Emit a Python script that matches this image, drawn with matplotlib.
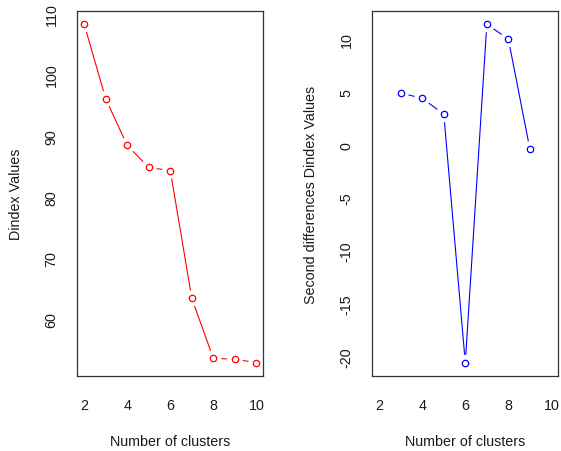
import numpy as np
import matplotlib
matplotlib.use("Agg")
import matplotlib.pyplot as plt

plt.rcParams["font.family"] = ["Liberation Sans", "DejaVu Sans"]
plt.rcParams["axes.unicode_minus"] = False

# Dindex values by number of clusters
clusters = [2, 3, 4, 5, 6, 7, 8, 9, 10]
dindex = [108.2, 96.0, 88.4, 84.8, 84.3, 63.4, 53.6, 53.5, 52.9]

# Second differences of the Dindex values
diff_clusters = [3, 4, 5, 6, 7, 8, 9]
second_diff = [4.9, 4.4, 2.9, -20.6, 11.4, 10.0, -0.4]

x_ticks = [2, 4, 6, 8, 10]
left_yticks = [60, 70, 80, 90, 100, 110]
right_yticks = [-20, -15, -10, -5, 0, 5, 10]

FS = 10.3
W, H = 561, 452
fig = plt.figure(figsize=(W / 100, H / 100), dpi=100)

ax_bottom = 1 - 377.3 / H
ax_height = 365.6 / H
ax_width = 186.0 / W
ax1 = fig.add_axes([77.3 / W, ax_bottom, ax_width, ax_height])
ax2 = fig.add_axes([372.3 / W, ax_bottom, ax_width, ax_height])


def padded(lo, hi, frac=0.04):
    d = (hi - lo) * frac
    return lo - d, hi + d


def style(ax, yticks, ylabel):
    ax.set_xticks(x_ticks)
    ax.set_yticks(yticks)
    ax.tick_params(axis="both", length=0, labelsize=FS, colors="#1a1a1a")
    ax.tick_params(axis="x", pad=15.5)
    ax.tick_params(axis="y", pad=13.5)
    for lbl in ax.get_yticklabels():
        lbl.set_rotation(90)
        lbl.set_va("center")
    for s in ax.spines.values():
        s.set_linewidth(0.9)
        s.set_color("#333333")
    ax.set_xlabel("Number of clusters", fontsize=FS, color="#1a1a1a")
    ax.set_ylabel(ylabel, fontsize=FS, color="#1a1a1a")
    ax.xaxis.set_label_coords(0.5, -57.3 / 365.6)
    ax.xaxis.label.set_va("top")
    ax.yaxis.set_label_coords(-61.0 / 186.0, 0.5)
    ax.yaxis.label.set_va("center")


def draw_b(ax, xs, ys, color, gap=8.0):
    # lines between points, stopped short of each marker
    pts = ax.transData.transform(np.column_stack([xs, ys]))
    inv = ax.transData.inverted()
    for p, q in zip(pts[:-1], pts[1:]):
        v = q - p
        L = np.hypot(*v)
        if L <= 2 * gap:
            continue
        u = v / L
        a = inv.transform(p + u * gap)
        b = inv.transform(q - u * gap)
        ax.plot([a[0], b[0]], [a[1], b[1]], color=color, lw=0.8,
                solid_capstyle="butt")
    ax.plot(xs, ys, linestyle="none", marker="o", markersize=4.6,
            markerfacecolor="none", markeredgecolor=color, markeredgewidth=0.9)


# left panel
ax1.set_xlim(*padded(min(clusters), max(clusters)))
ax1.set_ylim(*padded(min(dindex), max(dindex)))
style(ax1, left_yticks, "Dindex Values")
draw_b(ax1, clusters, dindex, "#ff0000")

# right panel
ax2.set_xlim(*padded(min(clusters), max(clusters)))
ax2.set_ylim(*padded(min(second_diff), max(second_diff)))
style(ax2, right_yticks, "Second differences Dindex Values")
draw_b(ax2, diff_clusters, second_diff, "#0000ff")

fig.savefig("out.png", dpi=100, facecolor="white")
